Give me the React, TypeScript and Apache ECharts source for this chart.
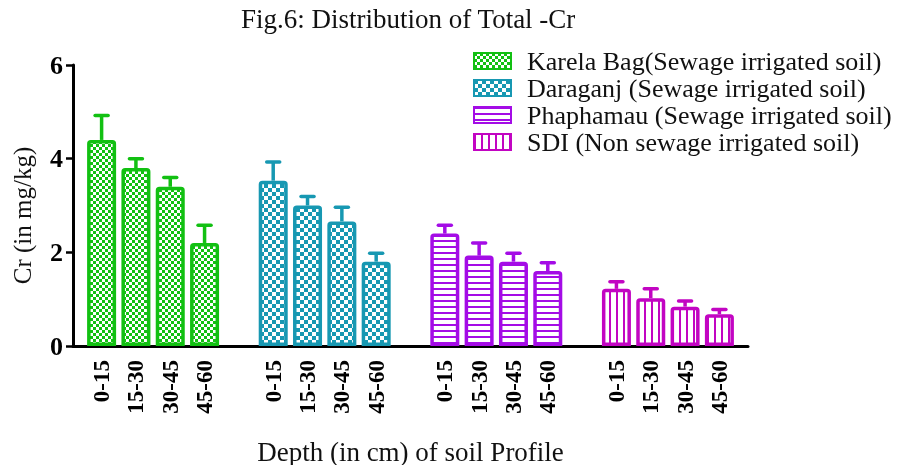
import React, { useEffect, useRef } from 'react';
import * as echarts from 'echarts';

// ---------- data ----------
const depths = ['0-15', '15-30', '30-45', '45-60'];
const sites = [
  'Karela Bag(Sewage irrigated soil)',
  'Daraganj (Sewage irrigated soil)',
  'Phaphamau (Sewage irrigated soil)',
  'SDI (Non sewage irrigated soil)',
];
const karelaBag = [4.4, 3.8, 3.4, 2.2];
const karelaBagErr = [0.52, 0.2, 0.2, 0.38];
const daraganj = [3.53, 3.0, 2.66, 1.8];
const daraganjErr = [0.4, 0.19, 0.3, 0.18];
const phaphamau = [2.4, 1.93, 1.8, 1.6];
const phaphamauErr = [0.18, 0.27, 0.18, 0.18];
const sdi = [1.22, 1.02, 0.84, 0.68];
const sdiErr = [0.15, 0.2, 0.12, 0.1];
const yTicks = [0, 2, 4, 6];

// ---------- styling ----------
const COLORS = ['#12C012', '#1798B2', '#A40CE6', '#C205C2'];
const PATTERNS = ['fineCheck', 'coarseCheck', 'hStripe', 'vStripe'];
const FONT = 'Liberation Serif';

// category-axis layout (slots per bar, gap slots between groups, edge slots)
const SLOTS_PER_BAR = 3;
const GROUP_GAP = 5;
const EDGE = 2;
const BAR_W = 29;

function makePattern(kind: string, color: string) {
  const c = document.createElement('canvas');
  let w = 6;
  let h = 6;
  if (kind === 'coarseCheck') { w = 8; h = 8; }
  if (kind === 'hStripe') { w = 6; h = 6; }
  if (kind === 'vStripe') { w = 7; h = 7; }
  c.width = w;
  c.height = h;
  const ctx = c.getContext('2d')!;
  ctx.fillStyle = '#ffffff';
  ctx.fillRect(0, 0, w, h);
  ctx.fillStyle = color;
  if (kind === 'fineCheck') {
    ctx.fillRect(0, 0, 3, 3);
    ctx.fillRect(3, 3, 3, 3);
  } else if (kind === 'coarseCheck') {
    ctx.fillRect(0, 0, 4, 4);
    ctx.fillRect(4, 4, 4, 4);
  } else if (kind === 'hStripe') {
    ctx.fillRect(0, 0, w, 2);
  } else {
    ctx.fillRect(0, 0, 2, h);
  }
  return { image: c, repeat: 'repeat', imageWidth: w, imageHeight: h } as any;
}

export default function App() {
  const ref = useRef<HTMLDivElement>(null);

  useEffect(() => {
    if (!ref.current) return;
    const chart = echarts.init(ref.current, undefined, { renderer: 'svg' });

    const values = [karelaBag, daraganj, phaphamau, sdi];
    const errs = [karelaBagErr, daraganjErr, phaphamauErr, sdiErr];
    const groupSlots = depths.length * SLOTS_PER_BAR + GROUP_GAP - (SLOTS_PER_BAR - 1);
    const slotOf = (g: number, i: number) => EDGE + g * groupSlots + i * SLOTS_PER_BAR;
    const lastSlot = slotOf(sites.length - 1, depths.length - 1);
    const total = lastSlot + 1 + EDGE;

    const categories: string[] = new Array(total).fill('');
    sites.forEach((_, g) => depths.forEach((d, i) => { categories[slotOf(g, i)] = d; }));

    // one series per site; all share the same column (stack) so they overlap in one slot
    const barSeries = sites.map((name, g) => {
      const data: (number | null)[] = new Array(total).fill(null);
      values[g].forEach((v, i) => { data[slotOf(g, i)] = v; });
      return {
        name,
        type: 'bar',
        stack: 'all',
        data,
        barWidth: BAR_W,
        barMinWidth: BAR_W,
        itemStyle: {
          color: makePattern(PATTERNS[g], COLORS[g]),
          borderColor: COLORS[g],
          borderWidth: 3.5,
          borderRadius: [2, 2, 0, 0],
        },
        z: 2,
      };
    });

    const errData: number[][] = [];
    sites.forEach((_, g) => values[g].forEach((v, i) => errData.push([slotOf(g, i), v, errs[g][i], g])));

    const showCat = (_: number, v: string) => v !== '';

    chart.setOption({
      animation: false,
      title: {
        text: 'Fig.6: Distribution of Total -Cr',
        left: 236,
        top: 0,
        textStyle: { fontFamily: FONT, fontWeight: 'normal', fontSize: 27, color: '#111' },
      },
      legend: {
        orient: 'vertical',
        left: 468,
        top: 43,
        itemWidth: 37,
        itemHeight: 16,
        itemGap: 1,
        data: sites.map((name) => ({ name, icon: 'rect' })),
        textStyle: { fontFamily: FONT, fontSize: 26, color: '#111', padding: [0, 0, 0, 11] },
      },
      grid: { left: 73, right: 153, top: 65, bottom: 119, outerBoundsMode: 'none' },
      xAxis: {
        type: 'category',
        data: categories,
        boundaryGap: true,
        name: 'Depth (in cm) of soil Profile',
        nameLocation: 'middle',
        nameGap: 92,
        nameTextStyle: { fontFamily: FONT, fontSize: 27, color: '#111' },
        axisLine: { lineStyle: { color: '#000', width: 3 } },
        axisTick: { alignWithLabel: true, interval: showCat, length: 8, lineStyle: { color: '#000', width: 3 } },
        axisLabel: {
          interval: showCat,
          rotate: 90,
          margin: 14,
          fontFamily: FONT,
          fontWeight: 'bold',
          fontSize: 23,
          color: '#000',
        },
        splitLine: { show: false },
      },
      yAxis: {
        type: 'value',
        min: yTicks[0],
        max: yTicks[yTicks.length - 1],
        interval: yTicks[1] - yTicks[0],
        name: 'Cr (in mg/kg)',
        nameLocation: 'middle',
        nameGap: 38,
        nameTextStyle: { fontFamily: FONT, fontSize: 25, color: '#111', padding: [0, 20, 0, 0] },
        axisLine: { show: true, lineStyle: { color: '#000', width: 3 } },
        axisTick: { show: true, length: 7, lineStyle: { color: '#000', width: 2.5 } },
        axisLabel: { margin: 10, fontFamily: FONT, fontWeight: 'bold', fontSize: 26, color: '#000' },
        splitLine: { show: false },
      },
      series: [
        ...barSeries,
        {
          type: 'custom',
          data: errData,
          encode: { x: 0, y: 1 },
          z: 1,
          renderItem: (_params: any, api: any) => {
            const x = api.value(0);
            const v = api.value(1);
            const e = api.value(2);
            const color = COLORS[api.value(3)];
            const base = api.coord([x, v]);
            const top = api.coord([x, v + e]);
            return {
              type: 'group',
              children: [
                {
                  type: 'line',
                  shape: { x1: base[0], y1: base[1], x2: top[0], y2: top[1] },
                  style: { stroke: color, lineWidth: 3.5 },
                },
                {
                  type: 'line',
                  shape: { x1: top[0] - 6.5, y1: top[1], x2: top[0] + 6.5, y2: top[1] },
                  style: { stroke: color, lineWidth: 3.5, lineCap: 'round' },
                },
              ],
            };
          },
        },
      ],
    } as any);

    return () => chart.dispose();
  }, []);

  return <div ref={ref} style={{ position: 'fixed', left: 0, top: 0, width: 901, height: 465 }} />;
}
